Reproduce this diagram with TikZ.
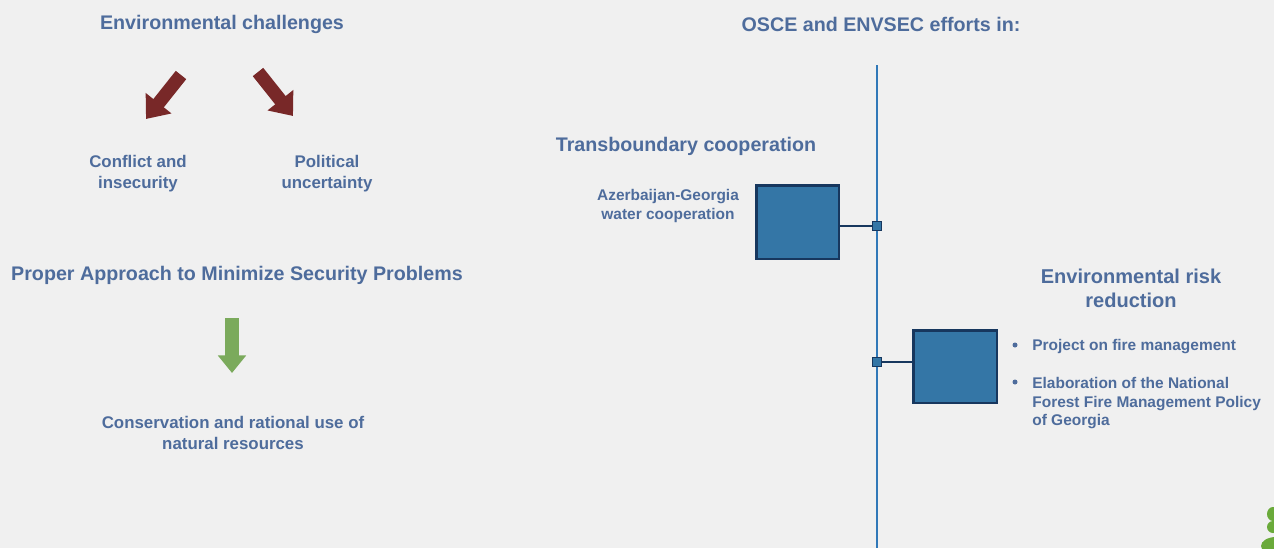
\documentclass[tikz,border=0pt]{standalone}
\usepackage{fontspec}
\setmainfont{Liberation Sans}
\usetikzlibrary{arrows.meta}
\definecolor{bgc}{HTML}{F0F0F0}
\definecolor{txt}{HTML}{4E6C9C}
\definecolor{darkred}{HTML}{782828}
\definecolor{grn}{HTML}{7BAA5C}
\definecolor{vline}{HTML}{3078B8}
\definecolor{boxfill}{HTML}{3476A6}
\definecolor{boxedge}{HTML}{17375E}
\definecolor{leaf}{HTML}{6AAA3A}
\tikzset{
  x=0.02cm, y=-0.02cm,
  head/.style={font=\fontsize{11.2}{13.5}\selectfont\bfseries, text=txt, align=center, inner sep=0pt},
  lbl/.style={font=\fontsize{9.6}{12}\selectfont\bfseries, text=txt, align=center, inner sep=0pt},
  small/.style={font=\fontsize{8.8}{10.6}\selectfont\bfseries, text=txt, align=center, inner sep=0pt},
  bluebox/.style={draw=boxedge, fill=boxfill, line width=1.7pt, inner sep=0pt},
  marker/.style={draw=boxedge, fill=boxfill, line width=0.8pt, minimum size=5pt, inner sep=0pt},
  redarrow/.style={draw=darkred, line width=7.6pt, -{Triangle[width=18pt,length=11.5pt]}},
  grnarrow/.style={draw=grn, line width=7.6pt, -{Triangle[width=15.5pt,length=10pt]}},
}
\begin{document}
\begin{tikzpicture}
\useasboundingbox (0,0) rectangle (1274,548);
\fill[bgc] (0,0) rectangle (1274,548);

% left column
\node[head] (t1) at (222,24) {Environmental challenges};
\coordinate (ra1) at (181,75); \coordinate (rb1) at (146,119);
\coordinate (ra2) at (258,72); \coordinate (rb2) at (293,116);
\draw[redarrow] (ra1) -- (rb1);
\draw[redarrow] (ra2) -- (rb2);
\node[lbl] (c1) at (138,174) {Conflict and\\insecurity};
\node[lbl] (c2) at (327,174) {Political\\uncertainty};
\node[head] (t2) at (237,275) {Proper Approach to Minimize Security Problems};
\coordinate (ga) at (232,318); \coordinate (gb) at (232,373);
\draw[grnarrow] (ga) -- (gb);
\node[lbl] (c3) at (233,433) {Conservation and rational use of\\natural resources};

% right column
\node[head] (t3) at (881,24) {OSCE and ENVSEC efforts in:};
\coordinate (vtop) at (877,65); \coordinate (vbot) at (877,548);
\draw[vline, line width=1.3pt] (vtop) -- (vbot);
\node[head] (t4) at (686,146) {Transboundary cooperation};
\node[small] (c4) at (668,206) {Azerbaijan-Georgia\\water cooperation};
\node[bluebox, minimum width=1.66cm, minimum height=1.48cm] (b1) at (797.5,222) {};
\node[marker] (m1) at (877,226) {};
\draw[boxedge, line width=1pt] (m1) -- (b1.east |- m1);

\node[head, font=\fontsize{11.4}{13.6}\selectfont\bfseries] (t5) at (1131,288) {Environmental risk\\reduction};
\node[bluebox, minimum width=1.68cm, minimum height=1.46cm] (b2) at (955,366.5) {};
\node[marker] (m2) at (877,362) {};
\draw[boxedge, line width=1pt] (m2) -- (b2.west |- m2);

\node[small, align=left, anchor=west] (p1) at (1032,347) {Project on fire management};
\node[small, align=left, anchor=north west] (p2) at (1032,377) {Elaboration of the National\\Forest Fire Management Policy\\of Georgia};
\fill[txt] (1015,345) circle (2.5);
\fill[txt] (1015,382) circle (2.5);

% decorative leaves
\fill[leaf] (1273,514) ellipse (6 and 7);
\fill[leaf] (1273,527) ellipse (6 and 6);
\fill[leaf] (1276,546) ellipse (15 and 9);
\end{tikzpicture}
\end{document}
